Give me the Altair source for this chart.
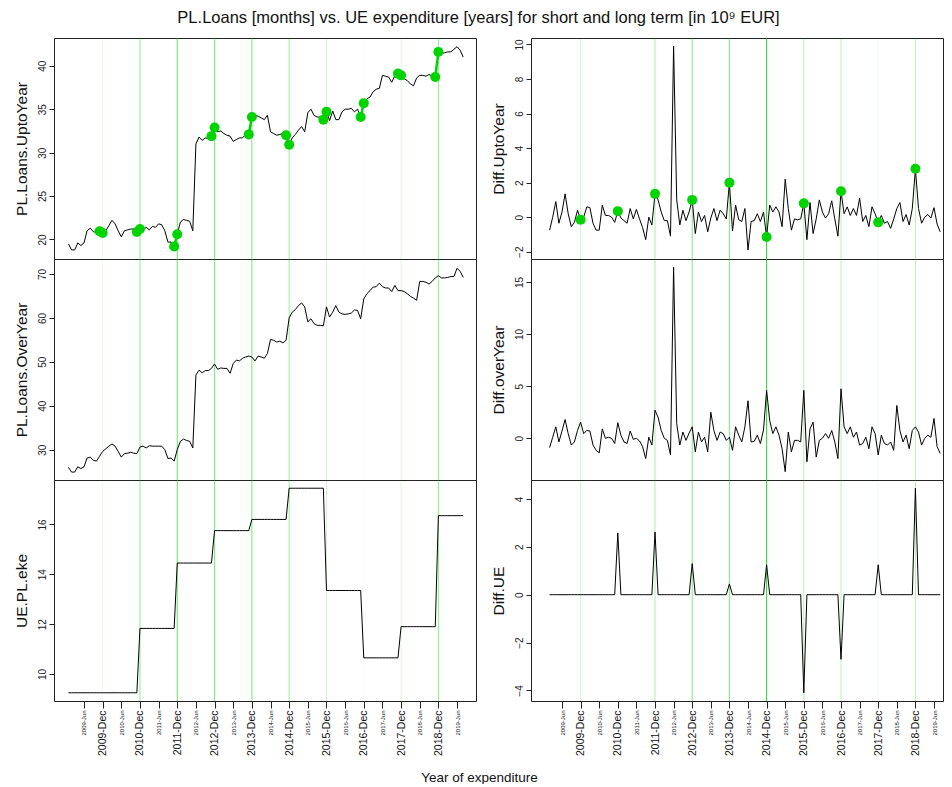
import altair as alt
import pandas as pd

# ---------------- data (monthly, starting January 2009) ----------------
start_year = 2009

# PL.Loans.UptoYear, one list per calendar year
upto_2009 = [19.5, 18.8, 18.8, 19.6, 19.3, 19.6, 21.0, 21.3, 20.9, 20.8, 20.95, 20.75]
upto_2010 = [21.0, 21.6, 22.2, 21.8, 21.0, 20.3, 21.0, 21.1, 21.2, 21.2, 20.85, 21.2]
upto_2011 = [21.1, 21.4, 21.1, 21.5, 21.4, 21.8, 21.7, 21.0, 19.7, 19.7, 19.2, 20.6]
upto_2012 = [22.0, 22.3, 22.2, 22.1, 21.0, 31.0, 31.8, 31.4, 31.7, 31.6, 31.9, 32.9]
upto_2013 = [32.4, 32.5, 32.2, 32.0, 31.9, 31.3, 31.5, 31.7, 31.7, 32.1, 32.1, 34.1]
upto_2014 = [34.3, 34.2, 34.0, 33.8, 34.3, 32.4, 32.2, 32.0, 32.1, 32.2, 32.0, 30.9]
upto_2015 = [31.7, 32.1, 32.6, 33.0, 32.4, 34.6, 35.0, 34.3, 34.1, 34.1, 33.8, 34.7]
upto_2016 = [33.7, 34.8, 33.8, 33.8, 34.7, 35.0, 35.0, 35.1, 34.7, 35.0, 34.1, 35.7]
upto_2017 = [36.2, 36.4, 37.0, 37.3, 37.4, 38.9, 38.8, 38.7, 38.1, 38.9, 39.1, 38.9]
upto_2018 = [38.5, 38.3, 37.9, 37.7, 38.6, 38.9, 38.9, 38.8, 39.0, 38.8, 38.7, 41.6]
upto_2019 = [41.4, 41.5, 41.6, 41.6, 41.9, 42.2, 41.8, 41.0]

# PL.Loans.OverYear
over_2009 = [26.0, 24.9, 24.9, 26.1, 25.7, 26.1, 28.1, 28.3, 27.6, 27.4, 28.5, 29.6]
over_2010 = [30.2, 30.8, 31.3, 30.8, 29.6, 28.3, 29.1, 29.2, 29.4, 29.2, 29.1, 30.6]
over_2011 = [30.8, 30.4, 30.9, 30.8, 30.8, 30.8, 30.8, 30.0, 28.0, 28.1, 27.4, 30.0]
over_2012 = [31.9, 32.4, 32.1, 31.9, 30.4, 47.0, 48.1, 47.5, 48.0, 48.0, 48.5, 49.5]
over_2013 = [48.3, 48.6, 48.5, 48.5, 47.4, 49.6, 50.4, 50.2, 50.8, 51.1, 51.3, 51.1]
over_2014 = [50.2, 51.3, 51.1, 50.8, 51.9, 55.1, 54.9, 54.5, 54.7, 54.3, 54.9, 60.0]
over_2015 = [61.3, 61.9, 62.8, 63.4, 62.5, 59.1, 59.8, 58.7, 58.3, 58.3, 58.2, 62.5]
over_2016 = [60.2, 61.3, 62.8, 61.3, 60.9, 60.8, 60.9, 61.1, 61.8, 61.7, 59.8, 64.3]
over_2017 = [65.5, 66.2, 67.0, 67.1, 67.9, 67.1, 66.8, 66.8, 66.0, 67.4, 66.2, 66.2]
over_2018 = [66.0, 65.5, 64.9, 64.5, 64.0, 68.3, 68.3, 68.1, 67.7, 68.3, 69.1, 69.6]
over_2019 = [69.1, 69.1, 69.2, 69.4, 69.4, 71.3, 70.6, 69.2]

# Diff.UptoYear (starts February 2009)
dupto_2009 = [-0.75, 0.0, 0.9, -0.35, 0.3, 1.35, 0.2, -0.55, -0.3, 0.4, -0.15]
dupto_2010 = [0.0, 0.6, 0.55, -0.35, -0.75, -0.75, 0.7, 0.1, 0.1, 0.0, -0.3, 0.35]
dupto_2011 = [-0.05, -0.2, -0.35, 0.5, -0.1, 0.45, -0.1, -0.6, -1.3, 0.0, -0.45, 1.35]
dupto_2012 = [1.0, 0.3, -0.2, -0.2, -1.1, 9.9, 1.0, -0.45, 0.4, -0.2, 0.3, 1.0]
dupto_2013 = [-0.95, 0.3, -0.25, 0.1, -0.85, -0.05, 0.5, -0.2, 0.4, 0.2, -0.1, 2.0]
dupto_2014 = [-0.8, 0.7, -0.15, -0.25, 0.5, -1.9, -0.25, -0.2, 0.2, -0.25, 0.3, -1.15]
dupto_2015 = [0.7, 0.3, 0.6, 0.3, -0.55, 2.2, 0.5, -0.75, -0.1, -0.15, -0.1, 0.8]
dupto_2016 = [-1.3, 0.85, -0.95, -0.1, 1.0, 0.3, -0.05, 0.2, 0.95, -0.1, -1.1, 1.5]
dupto_2017 = [0.2, 0.6, 0.1, 0.5, 0.1, 1.1, -0.25, 0.1, -0.55, 0.6, 0.2, -0.3]
dupto_2018 = [0.1, -0.35, -0.25, -0.65, -0.1, 0.5, 0.85, -0.25, 0.15, -0.45, 0.5, 2.8]
dupto_2019 = [0.5, -0.35, 0.0, 0.15, -0.05, 0.55, -0.4, -0.85]

# Diff.overYear (starts February 2009)
dover_2009 = [-0.9, 0.1, 1.1, -0.35, 0.7, 1.8, 0.45, -0.65, -0.35, 0.75, 1.55]
dover_2010 = [0.45, 0.75, 0.7, -0.65, -1.15, -1.4, 0.9, 0.0, 0.1, 0.0, -0.5, 1.5]
dover_2011 = [0.3, -0.35, -0.5, 0.7, -0.1, 0.0, -0.25, -0.8, -1.95, 0.1, -0.65, 2.7]
dover_2012 = [2.0, 0.75, 0.0, -0.2, -1.6, 16.4, 1.4, -0.65, 0.6, -0.2, 0.5, 1.1]
dover_2013 = [-1.3, 0.6, -0.35, 0.1, -1.3, 2.5, 0.75, -0.2, 0.6, 0.45, -0.2, 0.1]
dover_2014 = [-1.15, 1.1, 0.3, -0.35, 1.1, 3.6, -0.35, -0.3, 0.3, -0.5, 0.8, 4.6]
dover_2015 = [1.7, 0.45, 1.1, 0.3, -1.0, -3.2, 0.6, -1.3, -0.2, -0.2, -0.35, 4.6]
dover_2016 = [-2.25, 0.9, 1.55, -1.8, -0.2, 0.0, 0.45, 0.0, 0.75, -0.35, -1.95, 4.75]
dover_2017 = [1.1, 0.45, 1.1, 0.1, 0.6, -0.65, -0.5, 0.1, -1.0, 1.1, 0.45, -1.6]
dover_2018 = [0.3, -0.5, -0.65, -0.35, -1.15, 3.15, 0.75, -0.35, 0.3, -1.0, 0.75, 1.1]
dover_2019 = [0.6, -0.65, 0.0, 0.3, 0.1, 1.9, -0.8, -1.45]

# UE.PL.eke: yearly level, valid from December of the given year on
ue_from_december = [2008, 2010, 2011, 2012, 2013, 2014, 2015, 2016, 2017, 2018]
ue_level = [9.25, 11.83, 14.45, 15.75, 16.20, 17.45, 13.35, 10.65, 11.90, 16.35]
# Diff.UE: change in December of each year
ue_diff_years = [2010, 2011, 2012, 2013, 2014, 2015, 2016, 2017, 2018]
ue_diff_value = [2.58, 2.62, 1.30, 0.45, 1.25, -4.10, -2.70, 1.25, 4.45]

# December markers (2009..2018): strength of the vertical guide lines
marker_years = [2009, 2010, 2011, 2012, 2013, 2014, 2015, 2016, 2017, 2018]
left_marker_alpha = [0.08, 0.45, 0.6, 0.5, 0.55, 0.4, 0.2, 0.02, 0.15, 0.45]
right_marker_alpha = [0.2, 0.0, 0.35, 0.5, 0.5, 0.85, 0.3, 0.3, 0.07, 0.3]

# x tick labels (every 6 months, June and December)
tick_labels = []
for y in range(2009, 2020):
    tick_labels.append(f"{y}-Jun")
    if y < 2019:
        tick_labels.append(f"{y}-Dec")

# ---------------- assemble tables ----------------
upto = (upto_2009 + upto_2010 + upto_2011 + upto_2012 + upto_2013 + upto_2014
        + upto_2015 + upto_2016 + upto_2017 + upto_2018 + upto_2019)
over = (over_2009 + over_2010 + over_2011 + over_2012 + over_2013 + over_2014
        + over_2015 + over_2016 + over_2017 + over_2018 + over_2019)
d_upto = (dupto_2009 + dupto_2010 + dupto_2011 + dupto_2012 + dupto_2013 + dupto_2014
          + dupto_2015 + dupto_2016 + dupto_2017 + dupto_2018 + dupto_2019)
d_over = (dover_2009 + dover_2010 + dover_2011 + dover_2012 + dover_2013 + dover_2014
          + dover_2015 + dover_2016 + dover_2017 + dover_2018 + dover_2019)

n = len(upto)


def dec_index(year):
    return (year - start_year) * 12 + 11


ue = []
for t in range(n):
    val = ue_level[0]
    for y, v in zip(ue_from_december, ue_level):
        if t >= dec_index(y):
            val = v
    ue.append(val)

d_ue_map = {dec_index(y): v for y, v in zip(ue_diff_years, ue_diff_value)}
d_ue = [d_ue_map.get(t, 0.0) for t in range(1, n)]

levels = pd.DataFrame({"t": list(range(n)), "upto": upto, "over": over, "ue": ue})
diffs = pd.DataFrame({"t": list(range(1, n)), "d_upto": d_upto, "d_over": d_over, "d_ue": d_ue})

dec_t = [dec_index(y) for y in marker_years]
left_marks = pd.DataFrame({"t": dec_t, "a": left_marker_alpha})
right_marks = pd.DataFrame({"t": dec_t, "a": right_marker_alpha})

pair_rows = []
for k, y in enumerate(marker_years):
    for t in (dec_index(y) - 1, dec_index(y)):
        pair_rows.append({"t": t, "upto": upto[t], "g": k})
pairs = pd.DataFrame(pair_rows)
right_pts = pd.DataFrame({"t": dec_t, "d_upto": [d_upto[t - 1] for t in dec_t]})

tick_t = [5 + 6 * i for i in range(len(tick_labels))]

# ---------------- styling ----------------
GREEN = "#00d400"
FONT = "Liberation Sans"
H = 221
LW, RW = 422, 412
LDOM = [-4.65, 131.1]
RDOM = [-5.0, 127.9]

label_array = "[" + ",".join(f"'{s}'" for s in tick_labels) + "]"
label_expr = f"{label_array}[round((datum.value - 5) / 6)]"


def x_axis(title=None):
    kw = dict(
        values=tick_t, labelExpr=label_expr, labelAngle=-90, grid=False, domain=False,
        tickSize=7, tickColor="#222", labelPadding=2, labelColor="#111",
        labelFontSize={"condition": {"test": "datum.value % 12 == 5", "value": 6}, "value": 10.5},
        labelOverlap=False, labelFlush=False, labelBound=False,
    )
    if title:
        kw.update(title=title, titleX=425, titleY=76, titleAngle=0, titleAlign="center",
                  titleBaseline="middle", titleFontSize=13.5, titleFontWeight="normal",
                  titleColor="#111")
    else:
        kw.update(title=None)
    return alt.Axis(**kw)


def y_axis(title, ticks):
    return alt.Axis(
        title=title, values=ticks, labelAngle=-90, labelAlign="center", labelBaseline="bottom",
        tickSize=5, tickColor="#222", labelPadding=2, labelFontSize=10, labelColor="#222",
        titleFontSize=15.5, titleFontWeight="normal", titlePadding=8, titleColor="#111",
        grid=False, domain=False, labelOverlap=False, labelFlush=False,
    )


def panel(df, field, title, ydom, yticks, xdom, width, marks, xaxis=None, extra=()):
    xs = alt.Scale(domain=xdom, nice=False, zero=False)
    ys = alt.Scale(domain=ydom, nice=False, zero=False)
    rules = alt.Chart(marks).mark_rule(color=GREEN, strokeWidth=1).encode(
        x=alt.X("t:Q", scale=xs, axis=xaxis),
        opacity=alt.Opacity("a:Q", scale=None),
    )
    line = alt.Chart(df).mark_line(color="black", strokeWidth=1).encode(
        x=alt.X("t:Q", scale=xs, axis=xaxis),
        y=alt.Y(f"{field}:Q", scale=ys, axis=y_axis(title, yticks)),
    )
    layers = [rules, line]
    for ch in extra:
        layers.append(ch.encode(
            x=alt.X("t:Q", scale=xs, axis=xaxis),
            y=alt.Y(f"{field}:Q", scale=ys, axis=y_axis(title, yticks)),
        ))
    return alt.layer(*layers).properties(width=width, height=H)


pair_line = alt.Chart(pairs).mark_line(color=GREEN, strokeWidth=2.5).encode(detail="g:N")
pair_pts = alt.Chart(pairs).mark_circle(color=GREEN, size=100, opacity=1)
rpts = alt.Chart(right_pts).mark_circle(color=GREEN, size=100, opacity=1)

l1 = panel(levels, "upto", "PL.Loans.UptoYear", [17.75, 43.2], [20, 25, 30, 35, 40],
           LDOM, LW, left_marks, extra=(pair_line, pair_pts))
l2 = panel(levels, "over", "PL.Loans.OverYear", [23.1, 73.4], [30, 40, 50, 60, 70],
           LDOM, LW, left_marks)
l3 = panel(levels, "ue", "UE.PL.eke", [8.92, 17.78], [10, 12, 14, 16],
           LDOM, LW, left_marks, xaxis=x_axis("Year of expenditure"))

r1 = panel(diffs, "d_upto", "Diff.UptoYear", [-2.42, 10.37], [-2, 0, 2, 4, 6, 8, 10],
           RDOM, RW, right_marks, extra=(rpts,))
r2 = panel(diffs, "d_over", "Diff.overYear", [-4.0, 17.2], [0, 5, 10, 15],
           RDOM, RW, right_marks)
r3 = panel(diffs, "d_ue", "Diff.UE", [-4.44, 4.79], [-4, -2, 0, 2, 4],
           RDOM, RW, right_marks, xaxis=x_axis())

chart = alt.concat(
    l1, r1, l2, r2, l3, r3, columns=2,
    spacing={"row": 0, "column": 55}, bounds="flush",
).properties(
    title=alt.Title(
        "PL.Loans [months] vs. UE expenditure [years] for short and long term [in 10⁹ EUR]",
        fontSize=16.5, fontWeight="normal", anchor="middle", offset=11, color="#111", font=FONT,
    ),
    padding={"left": 5, "top": 1, "right": 0, "bottom": 0},
).configure_view(
    stroke="#222", strokeWidth=1
).configure_axis(
    labelFont=FONT, titleFont=FONT
)

chart.save("out.html", embed_options={"renderer": "svg", "actions": False})
